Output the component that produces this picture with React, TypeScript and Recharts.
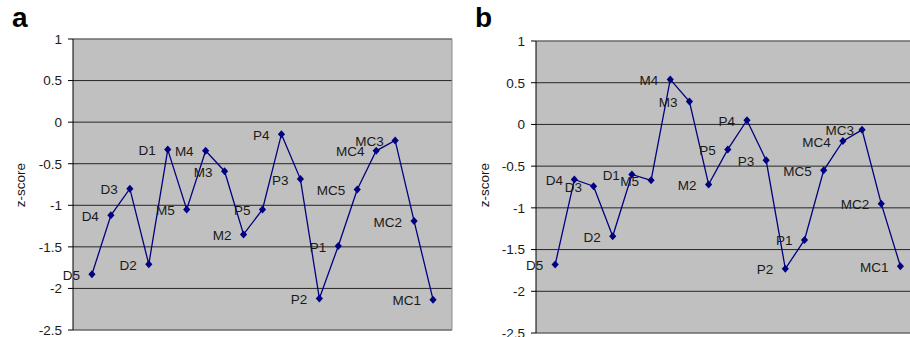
import React from 'react';
import { LineChart, Line, XAxis, YAxis, CartesianGrid, ReferenceLine, LabelList } from 'recharts';

const categories = ['D5', 'D4', 'D3', 'D2', 'D1', 'M5', 'M4', 'M3', 'M2', 'P5', 'P4', 'P3', 'P2', 'P1', 'MC5', 'MC4', 'MC3', 'MC2', 'MC1'];
const scoresA = [-1.83, -1.12, -0.8, -1.71, -0.33, -1.05, -0.345, -0.59, -1.35, -1.05, -0.145, -0.685, -2.12, -1.49, -0.81, -0.345, -0.22, -1.19, -2.135];
const scoresB = [-1.68, -0.66, -0.74, -1.34, -0.6, -0.67, 0.54, 0.275, -0.72, -0.3, 0.05, -0.43, -1.73, -1.385, -0.55, -0.2, -0.065, -0.95, -1.7];
const yTicks = [-2.5, -2, -1.5, -1, -0.5, 0, 0.5, 1];

const FONT = '"Liberation Sans", Arial, sans-serif';
const NAVY = '#000080';
const TEXT = '#1a1a1a';

const Diamond = (props: any) => {
  const { cx, cy } = props;
  if (cx == null || cy == null) return null;
  return <polygon points={`${cx},${cy - 4} ${cx + 3.6},${cy} ${cx},${cy + 4} ${cx - 3.6},${cy}`} fill={NAVY} />;
};

const makeLabel = (gaps: Record<string, number>) => (props: any) => {
  const { x, y, value } = props;
  const gap = gaps[value] ?? 12;
  return (
    <text x={x - gap} y={y + 1} textAnchor="end" dominantBaseline="central"
      fontSize={13.5} fontFamily={FONT} fill={TEXT}>
      {value}
    </text>
  );
};

interface PanelProps {
  letter: string;
  values: number[];
  left: number;
  width: number;
  xMax: number;
  top: number;
  bottom: number;
  axisWidth: number;
  rightBorder: boolean;
  labelX: number;
  gaps: Record<string, number>;
}

function Panel({ letter, values, left, width, xMax, top, bottom, axisWidth, rightBorder, labelX, gaps }: PanelProps) {
  const data = categories.map((name, i) => ({ idx: i + 1, name, score: values[i] }));
  return (
    <div style={{ position: 'absolute', left, top: 0, width, height: 337 }}>
      <div style={{ position: 'absolute', left: letter === 'a' ? 12 : 15, top: 2, fontSize: 28, fontWeight: 700, fontFamily: FONT, color: '#000' }}>
        {letter}
      </div>
      <div style={{
        position: 'absolute', left: labelX - 30, top: 177, width: 60, textAlign: 'center',
        transform: 'rotate(-90deg)', fontSize: 13.5, fontFamily: FONT, color: TEXT, lineHeight: '16px'
      }}>
        z-score
      </div>
      <LineChart width={width} height={337} data={data}
        margin={{ top, right: rightBorder ? 8 : 0, bottom, left: 30 }}>
        <CartesianGrid vertical={false} stroke="#262626" fill="#c0c0c0" />
        <XAxis type="number" dataKey="idx" domain={[0, xMax]} hide />
        <YAxis type="number" domain={[-2.5, 1]} ticks={yTicks} width={axisWidth}
          axisLine={{ stroke: '#000' }} tickLine={{ stroke: '#000' }} tickSize={5} tickMargin={6}
          tick={{ fontSize: 13.5, fontFamily: FONT, fill: TEXT }} interval={0} />
        <ReferenceLine y={1} stroke="#8c8c8c" />
        <ReferenceLine y={-2.5} stroke="#8c8c8c" />
        {rightBorder && <ReferenceLine x={xMax} stroke="#8c8c8c" />}
        <Line type="linear" dataKey="score" stroke={NAVY} strokeWidth={1.3}
          dot={<Diamond />} activeDot={false} isAnimationActive={false}>
          <LabelList dataKey="name" content={makeLabel(gaps)} />
        </Line>
      </LineChart>
    </div>
  );
}

export default function App() {
  return (
    <div style={{ position: 'absolute', left: 0, top: 0, width: 910, height: 337, overflow: 'hidden', background: '#fff' }}>
      <Panel letter="a" values={scoresA} left={0} width={460} xMax={20} top={39} bottom={7}
        axisWidth={43} rightBorder labelX={21} gaps={{ MC3: 11.4, MC4: 11.7 }} />
      <Panel letter="b" values={scoresB} left={460} width={450} xMax={19.5} top={41} bottom={4}
        axisWidth={46} rightBorder={false} labelX={24.5} gaps={{ MC3: 8, D4: 11.3, D3: 11.5 }} />
    </div>
  );
}
